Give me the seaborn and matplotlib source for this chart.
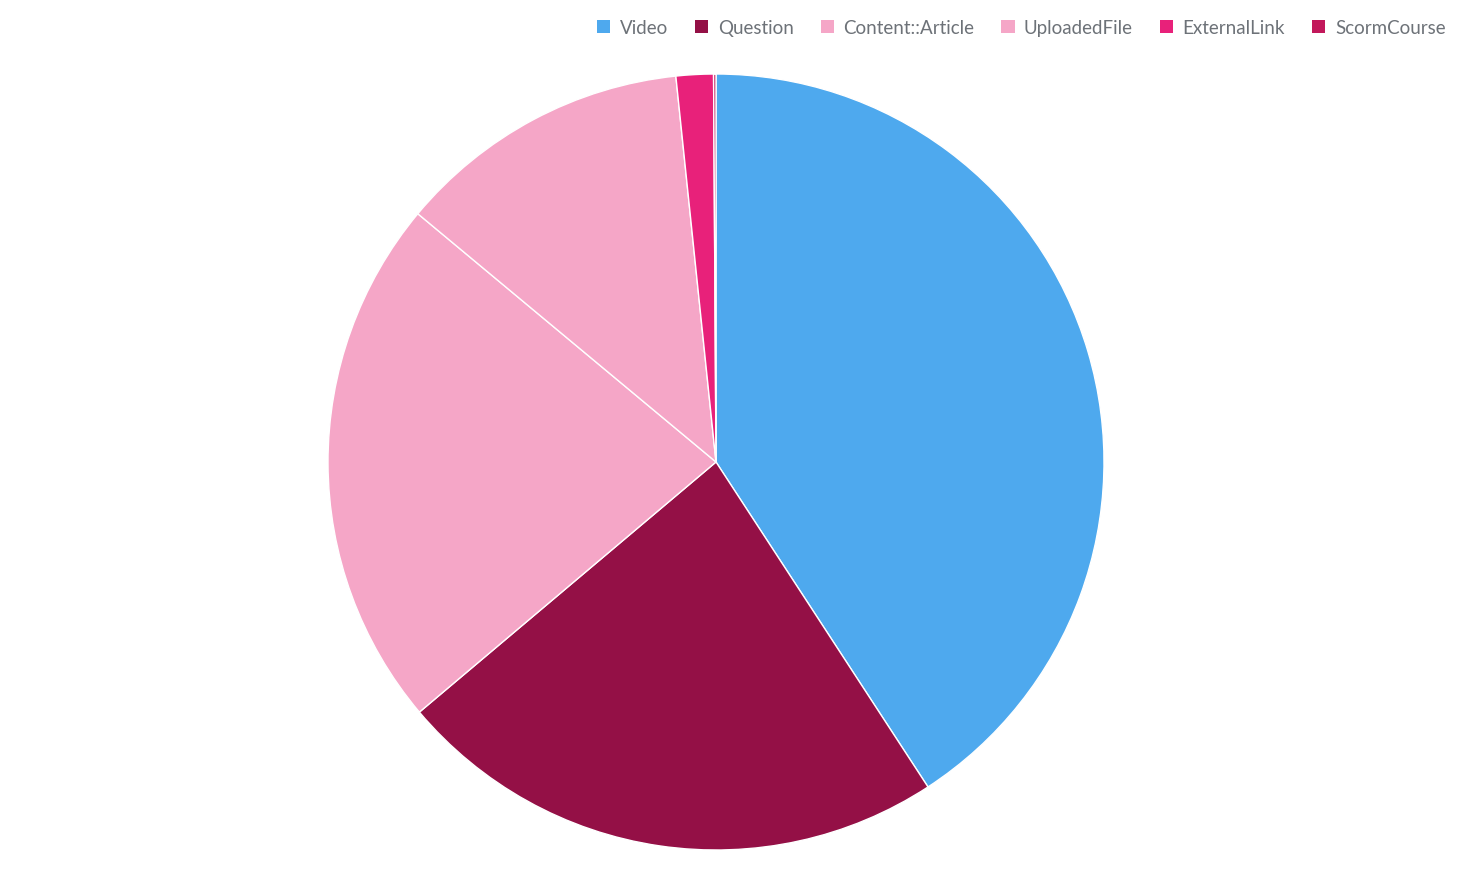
import matplotlib
matplotlib.use("Agg")
import matplotlib.pyplot as plt
import seaborn as sns
from matplotlib.patches import Patch

# Content type shares (percent)
labels = ["Video", "Question", "Content::Article", "UploadedFile", "ExternalLink", "ScormCourse"]
values = [40.8, 23.05, 22.2, 12.3, 1.55, 0.1]
colors = ["#4EA9EE", "#941046", "#F5A6C7", "#F5A6C7", "#E8217A", "#C2185B"]

sns.set_theme(style="white")
plt.rcParams["font.family"] = ["Lato", "DejaVu Sans"]

fig = plt.figure(figsize=(14.58, 8.78), dpi=100)
cx, cy, r = 716, 878 - 463, 388
ax = fig.add_axes([(cx - r) / 1458, (cy - r) / 878, 2 * r / 1458, 2 * r / 878])

ax.pie(values, colors=colors, startangle=90, counterclock=False,
       wedgeprops={"edgecolor": "white", "linewidth": 1})
ax.set_xlim(-1, 1)
ax.set_ylim(-1, 1)
ax.set_aspect("equal")
ax.axis("off")

# ---- Legend along the top right ----
handles = [Patch(facecolor=c, edgecolor="none") for c in colors]
fig.legend(handles, labels, loc="upper right", bbox_to_anchor=(1.003, 0.996), ncol=6,
           frameon=False, fontsize=13.5, labelcolor="#6D7278",
           handlelength=0.7, handleheight=0.7, handletextpad=0.5, columnspacing=1.45)

fig.savefig("out.png", dpi=100)
plt.close(fig)
